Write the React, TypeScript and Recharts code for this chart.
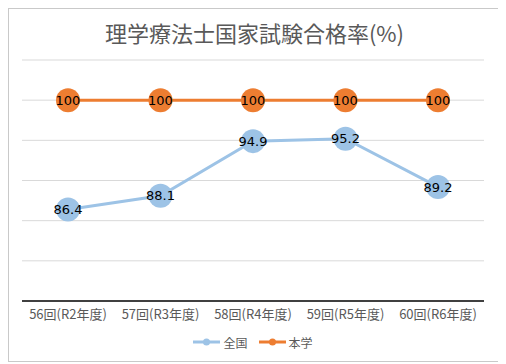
import React from 'react';
import { LineChart, Line, XAxis, YAxis, CartesianGrid, LabelList, Legend } from 'recharts';

const categories = ['56回(R2年度)', '57回(R3年度)', '58回(R4年度)', '59回(R5年度)', '60回(R6年度)'];
const nationalRates = [86.4, 88.1, 94.9, 95.2, 89.2];
const schoolRates = [100, 100, 100, 100, 100];
const yTicks = [75, 80, 85, 90, 95, 100, 105];
const seriesNames = ['全国', '本学'];
const chartTitle = '理学療法士国家試験合格率(%)';

const BLUE = '#9DC3E6';
const ORANGE = '#ED7D31';
const CJK = '"Noto Sans CJK JP", "Noto Sans", sans-serif';

const data = categories.map((c, i) => ({
  cat: c,
  national: nationalRates[i],
  school: schoolRates[i],
}));

const LegendContent = (props: any) => {
  const payload = props.payload || [];
  return (
    <div
      style={{
        display: 'flex',
        justifyContent: 'center',
        alignItems: 'center',
        height: 22,
        fontFamily: CJK,
        fontSize: 12,
        color: '#595959',
      }}
    >
      {payload.map((p: any, i: number) => (
        <div key={i} style={{ display: 'flex', alignItems: 'center', marginLeft: i === 0 ? 0 : 11 }}>
          <svg width={27} height={10}>
            <line x1={0} y1={5} x2={27} y2={5} stroke={p.color} strokeWidth={3} />
            <circle cx={13.5} cy={5} r={3.5} fill={p.color} />
          </svg>
          <span style={{ marginLeft: 3 }}>{p.value}</span>
        </div>
      ))}
    </div>
  );
};

export default function App() {
  return (
    <div
      style={{
        position: 'relative',
        width: 491,
        height: 352,
        border: '1px solid #c9c9c9',
        background: '#fff',
      }}
    >
      <div
        style={{
          position: 'absolute',
          top: 11,
          left: 0,
          right: 0,
          textAlign: 'center',
          fontFamily: CJK,
          fontSize: 22,
          lineHeight: '24px',
          color: '#595959',
        }}
      >
        {chartTitle}
      </div>
      <LineChart
        width={491}
        height={352}
        data={data}
        margin={{ top: 51, right: 16, left: 13, bottom: 8 }}
      >
        <CartesianGrid horizontal vertical={false} stroke="#d9d9d9" strokeWidth={1} />
        <YAxis hide domain={[75, 105]} ticks={yTicks} type="number" />
        <XAxis
          dataKey="cat"
          height={30}
          padding={{ left: 46, right: 46 }}
          tickLine={false}
          axisLine={{ stroke: '#404040', strokeWidth: 2 }}
          tick={{ fill: '#595959', fontSize: 13, fontFamily: CJK }}
          tickMargin={3}
          interval={0}
        />
        <Legend verticalAlign="bottom" height={22} content={<LegendContent />} />
        <Line
          name={seriesNames[0]}
          dataKey="national"
          stroke={BLUE}
          strokeWidth={3}
          dot={{ r: 12, fill: BLUE, stroke: BLUE, strokeWidth: 0 }}
          activeDot={false}
          isAnimationActive={false}
        >
          <LabelList
            dataKey="national"
            position="center"
            fill="#000"
            fontSize={13}
            fontFamily='"DejaVu Sans", sans-serif'
          />
        </Line>
        <Line
          name={seriesNames[1]}
          dataKey="school"
          stroke={ORANGE}
          strokeWidth={3}
          dot={{ r: 12, fill: ORANGE, stroke: ORANGE, strokeWidth: 0 }}
          activeDot={false}
          isAnimationActive={false}
        >
          <LabelList
            dataKey="school"
            position="center"
            fill="#000"
            fontSize={13}
            fontFamily='"DejaVu Sans", sans-serif'
          />
        </Line>
      </LineChart>
    </div>
  );
}
